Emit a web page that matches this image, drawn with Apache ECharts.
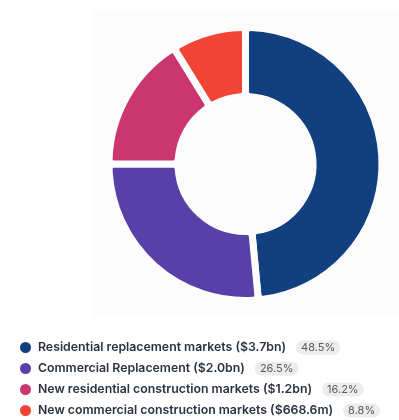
<!DOCTYPE html>
<html><head><meta charset="utf-8">
<script src="https://cdn.jsdelivr.net/npm/echarts@6/dist/echarts.min.js"></script>
<style>html,body{margin:0;padding:0;background:#fff}#c{width:399px;height:420px}</style>
</head><body><div id="c"></div>
<script>
const categories = [
  'Residential replacement markets ($3.7bn)',
  'Commercial Replacement ($2.0bn)',
  'New residential construction markets ($1.2bn)',
  'New commercial construction markets ($668.6m)'
];
const shares = [48.5, 26.5, 16.2, 8.8];
const shareLabels = ['48.5%', '26.5%', '16.2%', '8.8%'];
const colors = ['#113F7F', '#5840A8', '#CB3670', '#F14436'];

const chart = echarts.init(document.getElementById('c'), null, {renderer: 'canvas'});
const data = categories.map((n, i) => ({name: n, value: shares[i], itemStyle: {color: colors[i]}}));
chart.setOption({
  animation: false,
  backgroundColor: '#fff',
  graphic: [{type: 'rect', shape: {x: 92, y: 10, width: 307, height: 306}, style: {fill: '#fcfcfc'}, z: -10}],
  legend: {
    orient: 'vertical', left: 18, top: 340, height: 120, itemGap: 6,
    padding: 0,
    icon: 'circle', itemWidth: 13, itemHeight: 13,
    selectedMode: false,
    data: categories,
    formatter: function (name) {
      const i = categories.indexOf(name);
      return '{n|' + name + '}   {p|' + shareLabels[i] + '}';
    },
    textStyle: {
      padding: [0, 0, 0, 1],
      rich: {
        n: {fontFamily: 'Inter', fontWeight: 600, fontSize: 12.3, color: '#2b3240'},
        p: {fontFamily: 'Inter', fontSize: 11, color: '#5a5a5a', backgroundColor: '#ececec', borderRadius: 7, padding: [2, 5, 1, 5]}
      }
    }
  },
  series: [{
    type: 'pie',
    center: [245.5, 164],
    radius: [67.5, 136.5],
    startAngle: 90,
    clockwise: true,
    label: {show: false},
    labelLine: {show: false},
    emphasis: {disabled: true},
    itemStyle: {borderColor: '#fcfcfc', borderWidth: 7, borderRadius: 5},
    data: data
  }]
});
</script></body></html>
